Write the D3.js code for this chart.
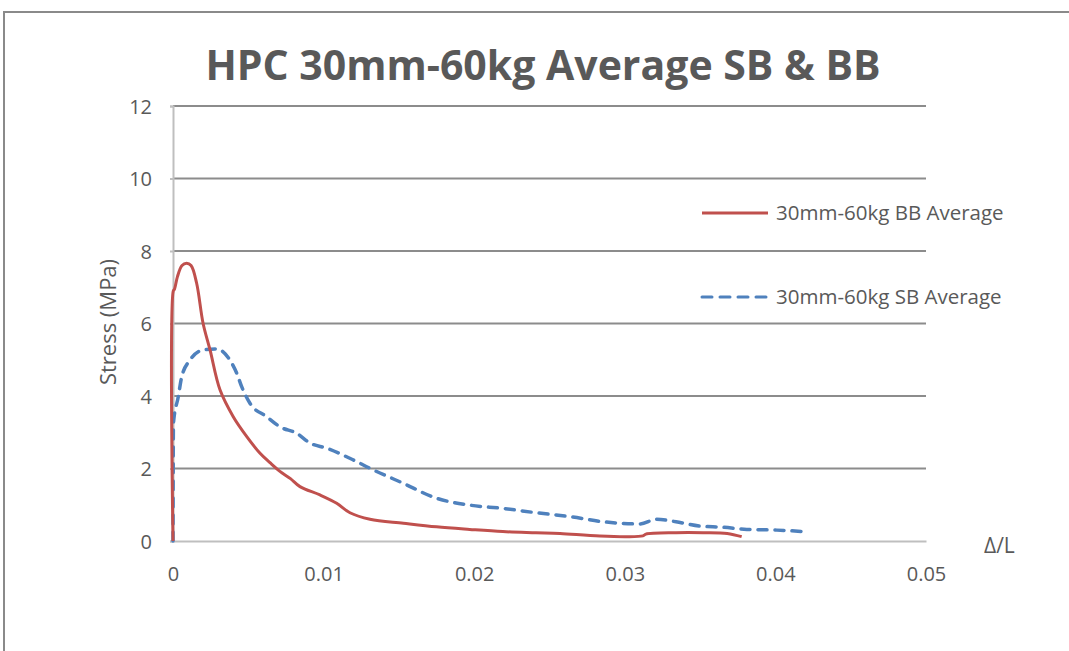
<!DOCTYPE html>
<html lang="en">
<head>
  <meta charset="UTF-8">
  <title>HPC 30mm-60kg Average SB & BB</title>
  <script src="https://d3js.org/d3.v7.min.js"></script>
  <style>
    body, html {
      margin: 0;
      padding: 0;
      background: #fff;
    }
    svg {
      display: block;
      font-family: "Open Sans", sans-serif;
    }
  </style>
</head>
<body>
  <svg width="1069" height="651"></svg>

  <script>
    // strain (Δ/L) and stress (MPa)
    const bbStrain = [0, 0.00002, 0.0001, 0.0003, 0.0006, 0.0009, 0.0012, 0.00157, 0.002, 0.00246, 0.00312, 0.004, 0.0049,
      0.00578, 0.00644, 0.0071, 0.0078, 0.00843, 0.00976, 0.01087, 0.01175, 0.01308, 0.0153, 0.0175, 0.0197,
      0.0219, 0.0241, 0.0257, 0.02835, 0.0312, 0.0314, 0.0334, 0.0352, 0.0368, 0.03776];
    const bbStress = [0, 6.9, 6.95, 7.3, 7.6, 7.66, 7.6, 7.11, 6.0, 5.27, 4.17, 3.43, 2.88,
      2.42, 2.16, 1.92, 1.72, 1.5, 1.27, 1.04, 0.78, 0.6, 0.49, 0.39, 0.32,
      0.26, 0.23, 0.21, 0.14, 0.14, 0.19, 0.23, 0.23, 0.21, 0.12];

    const sbStrain = [0, 0.00003, 0.00035, 0.00058, 0.00113, 0.002, 0.0029, 0.00378, 0.00423, 0.00456, 0.00511,
      0.00622, 0.0071, 0.00822, 0.0091, 0.0102, 0.012, 0.0131, 0.0153, 0.0175, 0.0197, 0.0219, 0.0241,
      0.0264, 0.0286, 0.031, 0.0321, 0.0334, 0.035, 0.0365, 0.0381, 0.0401, 0.0419];
    const sbStress = [0, 3.25, 3.98, 4.53, 4.99, 5.27, 5.3, 4.99, 4.63, 4.26, 3.8,
      3.43, 3.15, 2.97, 2.7, 2.56, 2.23, 2.0, 1.59, 1.18, 0.99, 0.9, 0.78,
      0.67, 0.53, 0.47, 0.6, 0.53, 0.41, 0.38, 0.32, 0.3, 0.26];

    const seriesNames = ["30mm-60kg BB Average", "30mm-60kg SB Average"];
    const xTicks = [0, 0.01, 0.02, 0.03, 0.04, 0.05];
    const yTicks = [0, 2, 4, 6, 8, 10, 12];

    const svg = d3.select("svg");
    const grey = "#595959";

    // outer chart frame
    svg.append("rect")
      .attr("x", 4).attr("y", 12)
      .attr("width", 1100).attr("height", 700)
      .attr("fill", "none")
      .attr("stroke", "#8a8a8a")
      .attr("stroke-width", 2);

    const x = d3.scaleLinear().domain([0, 0.05]).range([173, 926]);
    const y = d3.scaleLinear().domain([0, 12]).range([541, 106]);

    // gridlines
    svg.append("g")
      .selectAll("line")
      .data(yTicks.filter(d => d > 0))
      .join("line")
      .attr("x1", x(0)).attr("x2", x(0.05))
      .attr("y1", d => y(d)).attr("y2", d => y(d))
      .attr("stroke", "#8c8c8c")
      .attr("stroke-width", 2);

    const yAxis = svg.append("g")
      .attr("transform", `translate(${x(0)},0)`)
      .call(d3.axisLeft(y).tickValues(yTicks).tickSize(3).tickPadding(18).tickFormat(d3.format("d")));
    const xAxis = svg.append("g")
      .attr("transform", `translate(0,${y(0)})`)
      .call(d3.axisBottom(x).tickValues(xTicks).tickSize(0).tickPadding(40).tickFormat(d => d === 0 ? "0" : d3.format(".2f")(d)));
    [yAxis, xAxis].forEach(a => {
      a.attr("font-family", "Open Sans, sans-serif").attr("font-size", 20);
      a.select(".domain").attr("stroke", "#bfbfbf").attr("stroke-width", 2);
      a.selectAll(".tick line").attr("stroke", "#bfbfbf").attr("stroke-width", 2);
      a.selectAll(".tick text").attr("fill", grey);
    });
    xAxis.selectAll(".tick text").attr("dy", "0");
    yAxis.selectAll(".tick text").attr("dy", "0.36em");

    const line = d3.line()
      .x(d => x(d[0]))
      .y(d => y(d[1]))
      .curve(d3.curveMonotoneX);

    svg.append("path")
      .datum(sbStrain.map((v, i) => [v, sbStress[i]]))
      .attr("fill", "none")
      .attr("stroke", "#4f81bd")
      .attr("stroke-width", 3.5)
      .attr("stroke-dasharray", "9,8")
      .attr("stroke-linecap", "round")
      .attr("d", line);

    svg.append("path")
      .datum(bbStrain.map((v, i) => [v, bbStress[i]]))
      .attr("fill", "none")
      .attr("stroke", "#c0504d")
      .attr("stroke-width", 3)
      .attr("d", d3.line().x(d => x(d[0])).y(d => y(d[1])).curve(d3.curveCatmullRom));

    // title
    svg.append("text")
      .attr("x", 543).attr("y", 80)
      .attr("text-anchor", "middle")
      .attr("fill", grey)
      .style("font-size", "41px")
      .style("font-weight", "700")
      .text("HPC 30mm-60kg Average SB & BB");

    // axis titles
    svg.append("text")
      .attr("transform", "translate(116,322) rotate(-90)")
      .attr("text-anchor", "middle")
      .attr("fill", grey)
      .style("font-size", "22px")
      .text("Stress (MPa)");

    svg.append("text")
      .attr("x", 984).attr("y", 553)
      .attr("fill", grey)
      .style("font-size", "21px")
      .text("Δ/L");

    // legend
    const legend = svg.append("g")
      .selectAll("g")
      .data(seriesNames)
      .join("g")
      .attr("transform", (d, i) => `translate(700,${213 + i * 84})`);

    legend.append("line")
      .attr("x1", 2).attr("x2", 68)
      .attr("stroke", (d, i) => i === 0 ? "#c0504d" : "#4f81bd")
      .attr("stroke-width", 3)
      .attr("stroke-dasharray", (d, i) => i === 0 ? null : "10,8")
      .attr("stroke-linecap", (d, i) => i === 0 ? "butt" : "round");

    legend.append("text")
      .attr("x", 76)
      .attr("dy", "0.35em")
      .attr("fill", grey)
      .style("font-size", "20.5px")
      .text(d => d);
  </script>
</body>
</html>
